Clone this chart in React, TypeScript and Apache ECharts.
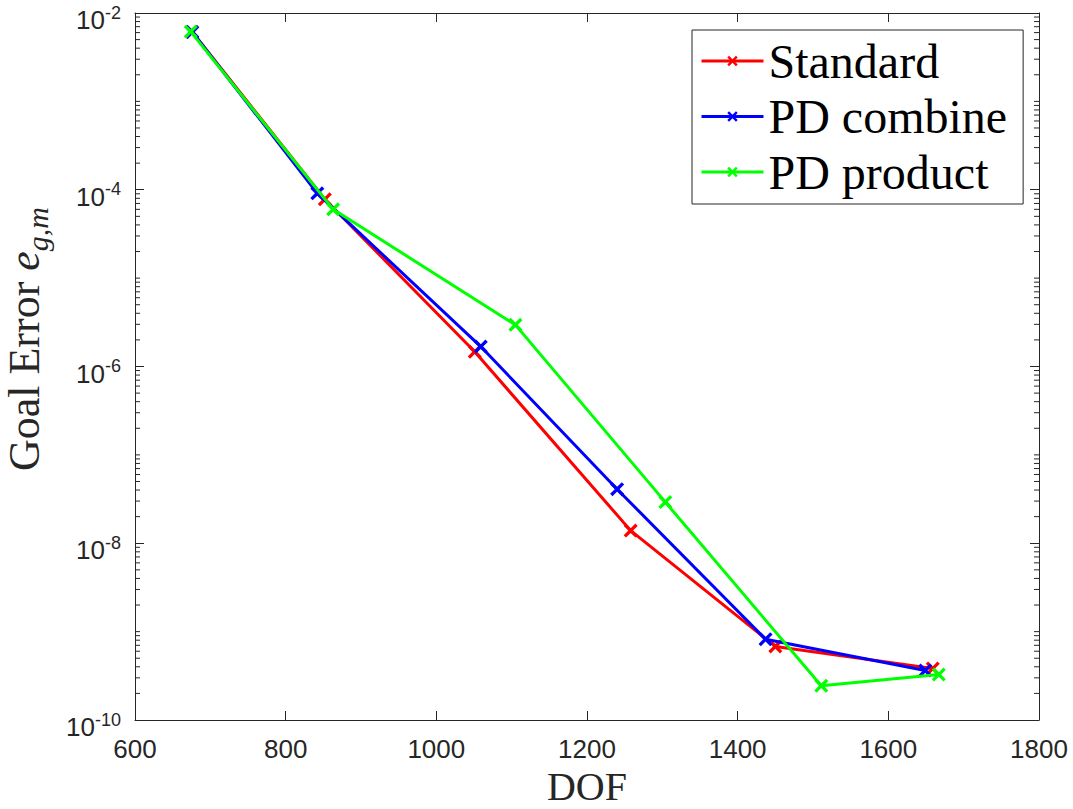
import React, { useEffect, useRef } from "react";
import * as echarts from "echarts";

const seriesNames = ["Standard", "PD combine", "PD product"];
const seriesColors = ["#ff0000", "#0000ff", "#00ff00"];

const dofStandard = [676, 852, 1051, 1258, 1450, 1659];
const errStandard = [6.1e-3, 7.8e-5, 1.47e-6, 1.39e-8, 6.8e-10, 3.83e-10];

const dofCombine = [676, 842, 1059, 1240, 1437, 1649];
const errCombine = [6.1e-3, 9.1e-5, 1.68e-6, 4.09e-8, 8.2e-10, 3.63e-10];

const dofProduct = [674, 863, 1105, 1304, 1511, 1667];
const errProduct = [6.15e-3, 6.0e-5, 2.96e-6, 2.92e-8, 2.44e-10, 3.27e-10];

const xMin = 600;
const xMax = 1800;
const xStep = 200;
const yMin = 1e-10;
const yMax = 1e-2;
const yDecadeStep = 2;

// minor tick values on the log axis (1..9 x 10^k, excluding labelled decades)
const minorTickValues: number[] = [];
for (let k = -10; k < -2; k++) {
  for (let m = 1; m <= 9; m++) {
    if (m === 1 && k % 2 === 0) continue;
    minorTickValues.push(m * Math.pow(10, k));
  }
}

const axisColor = "#262626";
const XMARK =
  "path://M0,2L2,0L6,4L10,0L12,2L8,6L12,10L10,12L6,8L2,12L0,10L4,6Z";

export default function App() {
  const ref = useRef<HTMLDivElement>(null);
  useEffect(() => {
    if (!ref.current) return;
    const chart = echarts.init(ref.current, null, { renderer: "svg" });
    const pairs = [
      [dofStandard, errStandard],
      [dofCombine, errCombine],
      [dofProduct, errProduct],
    ];
    const lineSeries = pairs.map(([xs, ys], i) => ({
      name: seriesNames[i],
      type: "line",
      data: xs.map((x, j) => [x, ys[j]]),
      symbol: XMARK,
      symbolSize: 14,
      showSymbol: true,
      lineStyle: { color: seriesColors[i], width: 3 },
      itemStyle: { color: seriesColors[i] },
      z: 3 + i,
    }));
    const tickAxisCommon = {
      axisLine: { show: true, onZero: false, lineStyle: { color: axisColor, width: 1 } },
      splitLine: { show: false },
    };
    const option = {
      animation: false,
      backgroundColor: "#ffffff",
      grid: {
        left: 135,
        right: 34,
        top: 13,
        bottom: 89,
        containLabel: false,
        outerBoundsMode: "none",
      },
      legend: {
        data: seriesNames,
        orient: "vertical",
        left: 692,
        top: 30,
        padding: [7, 16, 8, 8],
        itemWidth: 62,
        itemHeight: 13,
        itemGap: 7.5,
        borderColor: axisColor,
        borderWidth: 1,
        backgroundColor: "#ffffff",
        lineStyle: { width: 3 },
        textStyle: {
          fontFamily: "Liberation Serif",
          fontSize: 48,
          lineHeight: 48,
          color: "#000000",
        },
      },
      xAxis: [
        {
          type: "value",
          min: xMin,
          max: xMax,
          interval: xStep,
          ...tickAxisCommon,
          axisTick: { show: true, inside: true, length: 9, lineStyle: { color: axisColor } },
          axisLabel: {
            margin: 16,
            fontFamily: "Liberation Sans",
            fontSize: 26,
            lineHeight: 26,
            color: axisColor,
            formatter: (v: number) => String(v),
          },
          name: "DOF",
          nameLocation: "middle",
          nameGap: 46,
          nameTextStyle: {
            fontFamily: "Liberation Serif",
            fontSize: 40,
            lineHeight: 34,
            color: axisColor,
          },
        },
        {
          type: "value",
          position: "top",
          min: xMin,
          max: xMax,
          interval: xStep,
          ...tickAxisCommon,
          axisTick: { show: true, inside: true, length: 9, lineStyle: { color: axisColor } },
          axisLabel: { show: false },
        },
      ],
      yAxis: [
        {
          type: "log",
          logBase: 10,
          min: yMin,
          max: yMax,
          interval: yDecadeStep,
          ...tickAxisCommon,
          axisTick: { show: true, inside: true, length: 9, lineStyle: { color: axisColor } },
          axisLabel: {
            margin: 14,
            color: axisColor,
            formatter: (v: number) => `{b|10}{s|${Math.round(Math.log10(v))}}`,
            rich: {
              b: {
                fontFamily: "Liberation Sans",
                fontSize: 26,
                lineHeight: 20,
                padding: [14, 0, 0, 0],
                color: axisColor,
              },
              s: {
                fontFamily: "Liberation Sans",
                fontSize: 18,
                lineHeight: 14,
                padding: [9.5, 0, 10.5, 0],
                color: axisColor,
              },
            },
          },
        },
        {
          type: "log",
          logBase: 10,
          position: "right",
          min: yMin,
          max: yMax,
          interval: yDecadeStep,
          ...tickAxisCommon,
          axisTick: { show: true, inside: true, length: 9, lineStyle: { color: axisColor } },
          axisLabel: { show: false },
        },
      ],
      graphic: [
        {
          type: "text",
          x: 24,
          y: 339,
          rotation: Math.PI / 2,
          style: {
            text: "{r|Goal Error }{i|e}{sub|g,m}",
            align: "center",
            verticalAlign: "middle",
            fill: axisColor,
            rich: {
              r: { fontFamily: "Liberation Serif", fontSize: 44, lineHeight: 44, verticalAlign: "top", fill: axisColor },
              i: { fontFamily: "Liberation Serif", fontStyle: "italic", fontSize: 44, lineHeight: 44, verticalAlign: "top", fill: axisColor },
              sub: { fontFamily: "Liberation Serif", fontStyle: "italic", fontSize: 30, lineHeight: 30, padding: [20, 0, 0, 0], verticalAlign: "top", fill: axisColor },
            },
          },
        },
      ],
      series: [
        {
          name: "minorTicks",
          type: "custom",
          silent: true,
          xAxisIndex: 0,
          yAxisIndex: 0,
          data: minorTickValues.map((v) => [xMin, v]),
          renderItem: (params: any, api: any) => {
            const cs = params.coordSys;
            const y = api.coord([xMin, api.value(1)])[1];
            const style = { stroke: axisColor, lineWidth: 1 };
            return {
              type: "group",
              children: [
                { type: "line", shape: { x1: cs.x, y1: y, x2: cs.x + 5, y2: y }, style },
                { type: "line", shape: { x1: cs.x + cs.width - 5, y1: y, x2: cs.x + cs.width, y2: y }, style },
              ],
            };
          },
          z: 1,
        },
        ...lineSeries,
      ],
    };
    chart.setOption(option as any);
    return () => chart.dispose();
  }, []);
  return (
    <div
      ref={ref}
      style={{ position: "fixed", left: 0, top: 0, width: 1073, height: 809 }}
    />
  );
}
